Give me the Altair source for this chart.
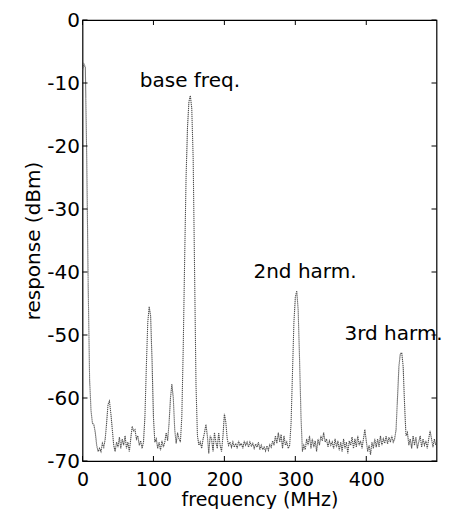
import altair as alt
import pandas as pd

freq = list(range(0, 502, 2))
resp = [
    -8, -7, -7.5, -22, -42, -57, -62, -64, -64.2, -65.5,
    -67.5, -68.5, -68, -68.5, -67.2, -67.8, -66.5, -64, -61, -60.5,
    -62.5, -65, -67.5, -68.5, -67, -67.8, -66.2, -68, -66.5, -67.5,
    -66, -68, -67, -68.5, -66.5, -64.5, -65.2, -65, -66.5, -66,
    -67.5, -66.8, -68, -67, -63, -55, -48, -45.5, -47, -54,
    -63, -67, -66.5, -68, -67, -68.3, -66.8, -67.8, -67, -65.5,
    -66.8, -64, -60, -57.8, -60, -65, -67.2, -65.5, -66.5, -67,
    -63, -52, -38, -25, -17, -13, -12, -14, -22, -40,
    -58, -66, -67.5, -67, -68, -66.5, -65.5, -64.2, -66, -68.8,
    -66, -66.5, -68.5, -65.5, -67, -68, -65.5, -67.5, -68.5, -66,
    -62.5, -63.8, -66.5, -67.5, -67, -67.8, -67, -67.8, -67.2, -68,
    -66.8, -67.5, -67.2, -68, -66.8, -67.5, -67, -67.8, -67, -67.6,
    -67.2, -68, -67.3, -67.8, -67, -68.2, -67.5, -68.2, -67.8, -68.4,
    -67.6, -68.3, -67.4, -67.8, -66.8, -67.5, -66, -67.2, -65.5, -67,
    -65.8, -68, -66, -67.5, -67, -68, -67.5, -64, -56, -48,
    -44, -43, -46, -54, -63, -68.5, -67.5, -68.2, -66.5, -67.5,
    -66, -68, -66.5, -67.8, -66.8, -68.5, -66.5, -67.5, -66, -66.8,
    -65.5, -67, -66.5, -67.8, -66.8, -67.5, -67, -68, -66.5, -67.8,
    -66.8, -68.3, -67, -68.5, -66.5, -68, -67, -68.8, -66.8, -67.5,
    -66.2, -68, -66.5, -67.8, -66, -67.5, -66.8, -68, -66.5, -65,
    -66.8, -68.5, -67.5, -69, -67, -68, -66.5, -67.8, -66.5, -67.8,
    -66, -67.5, -66.5, -67.2, -66, -67.3, -66.2, -67, -66, -67,
    -66.5, -65, -60, -55, -53, -52.8, -55, -61, -66, -65.5,
    -67.5, -66.5, -68, -66, -67.5, -66.2, -68, -67, -66, -67.8,
    -66.5, -67.5, -66.8, -68, -66.5, -65.2, -66.5, -67.8, -66.5, -67.5,
    -66.8,
]

ann_text = ["base freq.", "2nd harm.", "3rd harm."]
ann_f = [151.4, 313.6, 438.5]
ann_v = [-10.6, -41.0, -50.8]

x_ticks = [0, 100, 200, 300, 400]
y_ticks = [-70, -60, -50, -40, -30, -20, -10, 0]

FONT = "DejaVu Sans"
W, H = 354, 441

xs = alt.Scale(domain=[0, 499], nice=False, zero=False)
ys = alt.Scale(domain=[-70, 0], nice=False, zero=False)

df = pd.DataFrame({"f": freq, "v": resp})
ann = pd.DataFrame({"t": ann_text, "f": ann_f, "v": ann_v})
xt = pd.DataFrame({"f": x_ticks})
yt = pd.DataFrame({"v": y_ticks})

fix_minus = "replace(datum.label, '\u2212', '-')"

x_axis = alt.Axis(
    title="frequency (MHz)", values=x_ticks, grid=False, ticks=False,
    domain=False, labelFlush=False, labelFont=FONT, labelFontSize=19,
    labelColor="black", labelBaseline="alphabetic", labelPadding=24,
    labelExpr=fix_minus,
    titleFont=FONT, titleFontSize=19, titleFontWeight="normal",
    titleColor="black", titleBaseline="alphabetic", titleY=44)
y_axis = alt.Axis(
    title="response (dBm)", values=y_ticks, grid=False, ticks=False,
    domain=False, labelFlush=False, labelFont=FONT, labelFontSize=20,
    labelColor="black", labelPadding=3, labelExpr=fix_minus,
    titleFont=FONT, titleFontSize=20, titleFontWeight="normal",
    titleColor="black", titleBaseline="middle", titleX=-49.5,
    titleY=H / 2, titleAngle=270)

line = alt.Chart(df).mark_line(
    color="#505050", strokeWidth=1.1, strokeDash=[1.3, 0.7], clip=True
).encode(
    x=alt.X("f:Q", scale=xs, axis=x_axis),
    y=alt.Y("v:Q", scale=ys, axis=y_axis),
)

labels = alt.Chart(ann).mark_text(
    font=FONT, fontSize=20, color="black", align="center", baseline="alphabetic"
).encode(
    x=alt.X("f:Q", scale=xs, axis=x_axis),
    y=alt.Y("v:Q", scale=ys, axis=y_axis),
    text="t:N",
)

tick_len = 5
bottom_ticks = alt.Chart(xt).mark_rule(color="black", strokeWidth=1).encode(
    x=alt.X("f:Q", scale=xs, axis=x_axis), y=alt.value(H), y2=alt.value(H - tick_len))
top_ticks = alt.Chart(xt).mark_rule(color="black", strokeWidth=1).encode(
    x=alt.X("f:Q", scale=xs, axis=x_axis), y=alt.value(0), y2=alt.value(tick_len))
left_ticks = alt.Chart(yt).mark_rule(color="black", strokeWidth=1).encode(
    y=alt.Y("v:Q", scale=ys, axis=y_axis), x=alt.value(0), x2=alt.value(tick_len))
right_ticks = alt.Chart(yt).mark_rule(color="black", strokeWidth=1).encode(
    y=alt.Y("v:Q", scale=ys, axis=y_axis), x=alt.value(W), x2=alt.value(W - tick_len))

chart = alt.layer(
    line, labels, bottom_ticks, top_ticks, left_ticks, right_ticks
).properties(
    width=W, height=H, background="white",
    padding={"left": 74.5, "top": 12, "right": 5.5, "bottom": 48},
    autosize=alt.AutoSizeParams(type="none"),
).configure_view(
    stroke="black", strokeWidth=1.2
)

chart.save("out.html", embed_options={"renderer": "svg", "actions": False})
